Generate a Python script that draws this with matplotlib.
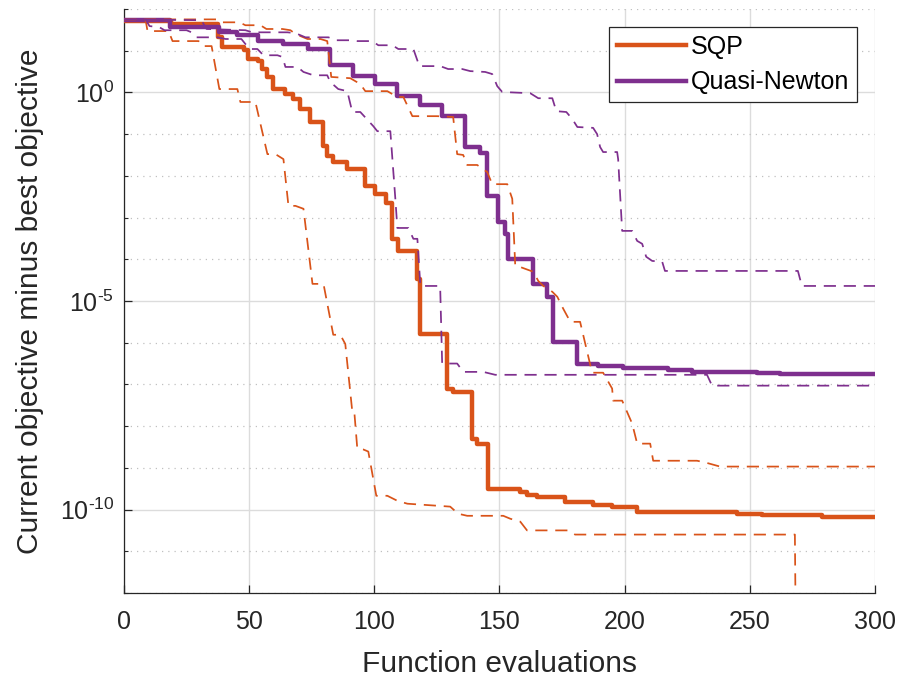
import numpy as np
import matplotlib
matplotlib.use('Agg')
from matplotlib import pyplot as plt
from matplotlib.ticker import FixedLocator, NullFormatter, FuncFormatter

plt.rcParams['font.family'] = ['Liberation Sans', 'DejaVu Sans']
plt.rcParams['mathtext.fontset'] = 'custom'
plt.rcParams['mathtext.rm'] = 'Liberation Sans'
plt.rcParams['mathtext.it'] = 'Liberation Sans:italic'
plt.rcParams['mathtext.bf'] = 'Liberation Sans:bold'

'''
Convergence of the two solvers: gap between the current objective and the
best objective found, versus number of function evaluations.
Gaps are stored as log10 values. Thick lines are the medians (step plots),
dashed lines the spread over runs.
'''

# SQP median
sqp_med_x = [0, 18.6, 37.7, 39.3, 48.1, 49.7, 53.7, 55.3, 57.3, 59.7, 64.5, 67.7, 70.5, 74.5,
             79.6, 81.2, 83.6, 89.2, 96.4, 100.4, 104.8, 107.2, 109.6, 117.2, 118.4, 129.1,
             131.5, 139.1, 141.1, 145.5, 158.3, 161.1, 165.0, 176.2, 187.4, 195.0, 204.9,
             230.1, 244.9, 254.8, 278.8, 300]
sqp_med_log = [1.71, 1.64, 1.32, 1.08, 1.01, 0.80, 0.75, 0.56, 0.37, 0.08, -0.04, -0.16, -0.40,
               -0.71, -1.29, -1.53, -1.67, -1.84, -2.24, -2.43, -2.65, -3.51, -3.80, -4.47,
               -5.79, -7.10, -7.18, -8.30, -8.42, -9.50, -9.57, -9.64, -9.71, -9.81, -9.88,
               -9.95, -10.05, -10.07, -10.10, -10.12, -10.19, -10.19]

# Quasi-Newton median
qn_med_x = [0, 18.2, 38.1, 45.3, 53.7, 63.7, 73.7, 82.4, 91.6, 100.4, 109.2, 118.4, 127.1,
            136.3, 142.3, 145.1, 149.5, 152.3, 153.5, 163.4, 169.0, 171.4, 181.0, 189.4,
            199.4, 217.3, 226.9, 252.8, 262.0, 300]
qn_med_log = [1.73, 1.56, 1.44, 1.37, 1.23, 1.16, 1.04, 0.65, 0.39, 0.20, -0.09, -0.30, -0.57,
              -1.31, -1.45, -2.48, -3.11, -3.39, -3.99, -4.59, -4.90, -5.98, -6.50, -6.55,
              -6.60, -6.65, -6.70, -6.72, -6.75, -6.75]

# SQP spread (lower / upper)
sqp_lo_x = [0, 8.6, 9.4, 17.8, 19.4, 29.8, 31.4, 35.0, 38.1, 45.3, 46.5, 52.5, 57.3, 60.5,
            63.7, 65.7, 68.5, 71.7, 75.3, 79.7, 83.6, 86.4, 88.4, 91.2, 92.0, 93.2, 95.6,
            97.6, 100.8, 105.2, 109.2, 113.2, 130.3, 133.5, 137.1, 151.5, 154.3, 158.3,
            161.0, 177.4, 180.2, 268.0, 268.8]
sqp_lo_log = [1.75, 1.75, 1.47, 1.47, 1.23, 1.23, 1.11, 1.11, 0.08, 0.08, -0.23, -0.23, -1.48,
              -1.48, -1.60, -2.72, -2.72, -2.79, -4.59, -4.59, -5.81, -5.81, -6.03, -7.65,
              -7.65, -8.54, -8.56, -8.61, -9.67, -9.67, -9.79, -9.86, -9.93, -10.10, -10.15,
              -10.15, -10.22, -10.29, -10.50, -10.50, -10.60, -10.60, -16.0]

sqp_hi_x = [0, 37.4, 39.3, 46.1, 48.5, 54.5, 56.9, 63.3, 66.5, 68.5, 73.3, 78.5, 81.2, 82.8,
            90.4, 94.4, 96.4, 105.2, 109.2, 111.6, 115.2, 125.1, 131.5, 133.1, 135.5, 137.1,
            141.1, 145.1, 147.1, 153.1, 155.1, 156.3, 157.1, 160.3, 163.5, 165.5, 167.5,
            171.1, 173.1, 175.5, 178.3, 182.2, 187.0, 191.4, 195.0, 195.4, 199.0, 203.0,
            205.0, 210.2, 211.4, 228.9, 232.1, 238.1, 300]
sqp_hi_log = [1.75, 1.75, 1.68, 1.68, 1.61, 1.61, 1.52, 1.52, 1.49, 1.40, 1.28, 1.28, 1.23,
              0.37, 0.34, 0.20, 0.03, 0.03, -0.11, -0.11, -0.57, -0.57, -0.59, -1.48, -1.50,
              -1.74, -1.74, -1.91, -2.20, -2.20, -2.55, -4.16, -4.16, -4.23, -4.30, -4.52,
              -4.64, -4.78, -4.90, -5.19, -5.50, -5.50, -6.72, -6.72, -7.10, -7.39, -7.39,
              -7.94, -8.42, -8.42, -8.83, -8.83, -8.87, -8.97, -8.97]

# Quasi-Newton spread (lower / upper)
qn_lo_x = [0, 8.6, 10.2, 14.2, 16.2, 25.0, 27.0, 29.0, 37.4, 40.6, 46.9, 48.5, 50.5, 53.3,
           55.7, 61.3, 63.3, 64.5, 69.3, 71.7, 75.7, 81.2, 82.4, 85.6, 89.2, 91.2, 94.4,
           99.6, 101.2, 106.4, 108.4, 109.2, 113.6, 115.6, 117.2, 118.4, 126.3, 127.1,
           133.1, 135.5, 143.5, 148.3, 232.9, 234.9, 300]
qn_lo_log = [1.75, 1.75, 1.59, 1.56, 1.49, 1.49, 1.44, 1.32, 1.32, 1.28, 1.28, 1.16, 1.04,
             1.04, 0.89, 0.89, 0.85, 0.61, 0.61, 0.49, 0.41, 0.41, 0.25, 0.08, 0.03, -0.47,
             -0.47, -0.81, -0.93, -0.93, -2.55, -3.25, -3.25, -3.51, -3.51, -4.64, -4.64,
             -6.50, -6.50, -6.70, -6.70, -6.77, -6.77, -7.03, -7.03]

qn_hi_x = [0, 30.9, 33.0, 48.5, 51.3, 65.3, 68.5, 72.5, 81.7, 84.5, 90.4, 93.2, 99.2, 101.6,
           107.2, 109.6, 115.6, 118.0, 126.3, 129.5, 135.1, 138.3, 144.3, 147.1, 149.1,
           151.1, 162.3, 165.5, 171.1, 172.7, 176.7, 179.1, 181.1, 187.4, 189.0, 190.2,
           191.4, 197.0, 197.4, 199.0, 203.0, 205.0, 207.0, 208.6, 211.0, 215.0, 216.1,
           269.2, 270.8, 300]
qn_hi_log = [1.75, 1.73, 1.52, 1.49, 1.44, 1.44, 1.42, 1.32, 1.32, 1.25, 1.25, 1.23, 1.23,
             1.13, 1.13, 1.04, 1.04, 0.63, 0.63, 0.56, 0.56, 0.51, 0.49, 0.44, 0.15, 0.01,
             -0.02, -0.14, -0.14, -0.45, -0.47, -0.64, -0.83, -0.85, -1.00, -1.31, -1.43,
             -1.43, -1.60, -3.32, -3.32, -3.56, -3.63, -3.94, -4.04, -4.06, -4.28, -4.28,
             -4.64, -4.64]

c_sqp = '#D95319'
c_qn = '#7E2F8E'
ink = '#262626'

fig = plt.figure(figsize=(8.99, 6.79), dpi=100)
ax = fig.add_axes([0.1379, 0.1267, 0.8354, 0.8601])

ax.plot(sqp_med_x, 10.0 ** np.array(sqp_med_log), color=c_sqp, lw=3.2,
        drawstyle='steps-post', label='SQP', zorder=3)
ax.plot(qn_med_x, 10.0 ** np.array(qn_med_log), color=c_qn, lw=3.2,
        drawstyle='steps-post', label='Quasi-Newton', zorder=3)

dash = (7.0, 4.5)
ax.plot(sqp_lo_x, 10.0 ** np.array(sqp_lo_log), color=c_sqp, lw=1.25, dashes=dash, zorder=4)
ax.plot(sqp_hi_x, 10.0 ** np.array(sqp_hi_log), color=c_sqp, lw=1.25, dashes=dash, zorder=4)
ax.plot(qn_lo_x, 10.0 ** np.array(qn_lo_log), color=c_qn, lw=1.25, dashes=dash, zorder=4)
ax.plot(qn_hi_x, 10.0 ** np.array(qn_hi_log), color=c_qn, lw=1.25, dashes=dash, zorder=4)


def decade_label(val, pos):
    # 10^k with a short hyphen in the exponent
    k = int(round(np.log10(val)))
    if k < 0:
        return r'$\mathdefault{10^{\text{-}%d}}$' % (-k)
    return r'$\mathdefault{10^{%d}}$' % k


ax.set_yscale('log')
ax.set_xlim(0, 300)
ax.set_ylim(1e-12, 1e2)
ax.set_xticks(np.arange(0, 301, 50))
ax.yaxis.set_major_locator(FixedLocator([1e-10, 1e-5, 1e0]))
ax.yaxis.set_major_formatter(FuncFormatter(decade_label))
ax.yaxis.set_minor_locator(FixedLocator(10.0 ** np.arange(-12, 3)))
ax.yaxis.set_minor_formatter(NullFormatter())

ax.set_axisbelow(True)
ax.grid(True, which='major', color='#dcdcdc', lw=1.0, ls='-')
ax.grid(True, which='minor', axis='y', color='#c0c0c0', lw=0.9, ls=(0, (1, 4)))

for side in ('top', 'right'):
    ax.spines[side].set_visible(False)
for side in ('left', 'bottom'):
    ax.spines[side].set_color(ink)
    ax.spines[side].set_linewidth(0.9)

ax.tick_params(which='both', direction='in', colors=ink, labelsize=18)
ax.tick_params(which='major', length=6, width=0.9)
ax.tick_params(which='minor', length=3, width=0.8)
ax.tick_params(axis='x', pad=12)
ax.tick_params(axis='y', pad=7)

ax.set_xlabel('Function evaluations', fontsize=21.5, color=ink, labelpad=12)
ax.set_ylabel('Current objective minus best objective', fontsize=21.5, color=ink, labelpad=11)

leg = ax.legend(loc='upper right', bbox_to_anchor=(0.976, 0.969), fontsize=18,
                frameon=True, fancybox=False, edgecolor=ink, framealpha=1,
                handlelength=2.75, handletextpad=0.2, borderpad=0.32, labelspacing=0.45,
                borderaxespad=0)
leg.get_frame().set_linewidth(0.9)

plt.savefig('out.png', dpi=100)
